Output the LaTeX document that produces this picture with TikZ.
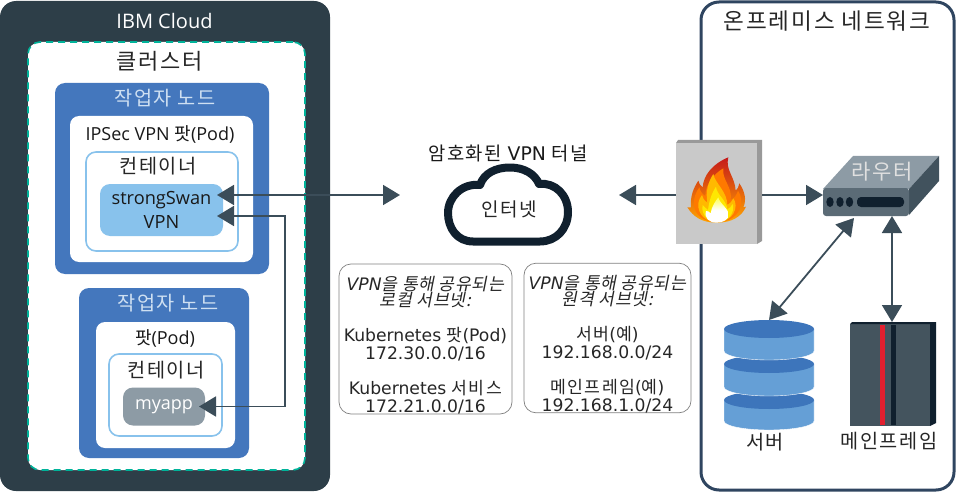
\documentclass[tikz,border=0pt]{standalone}
\usepackage{fontspec}
\setmainfont{Open Sans}
\newfontfamily\krfont[LetterSpace=8]{Noto Sans CJK KR}
\newfontfamily\krslant[FakeSlant=0.2,LetterSpace=4]{Noto Sans CJK KR}
\newfontfamily\dvfont{DejaVu Sans}
\usetikzlibrary{arrows.meta, positioning, calc}
\definecolor{cloudnavy}{HTML}{2D3E48}
\definecolor{clusterteal}{HTML}{00B39A}
\definecolor{workerblue}{HTML}{4477BD}
\definecolor{skyblue}{HTML}{88C2EC}
\definecolor{appgray}{HTML}{8D9BA5}
\definecolor{linkslate}{HTML}{3B4D59}
\definecolor{inknavy}{HTML}{10202E}
\definecolor{framenavy}{HTML}{2F4560}
\definecolor{disktop}{HTML}{3D75BB}
\definecolor{diskside}{HTML}{659FD6}
\definecolor{mainfrgray}{HTML}{44545E}
\definecolor{mainfrred}{HTML}{E3202F}
\definecolor{routerfront}{HTML}{5B6B76}
\definecolor{routerside}{HTML}{41525D}
\definecolor{workertext}{HTML}{CFE0F2}
\tikzset{
  panel/.style={rectangle, inner sep=0pt, outer sep=0pt, rounded corners=#1},
  panel/.default=10pt,
  link/.style={draw=linkslate, line width=1.8pt, {Triangle[length=17pt,width=20pt]}-{Triangle[length=17pt,width=20pt]}},
  onelink/.style={draw=linkslate, line width=1.8pt, -{Triangle[length=17pt,width=20pt]}},
  label/.style={inner sep=0pt, text=black!85, font=\krfont\fontsize{19.7}{22}\selectfont},
  notebox/.style={panel=12pt, draw=black!50, line width=0.7pt, align=center, font=\dvfont\fontsize{17.2}{17.5}\selectfont, text=black!85}
}
\newcommand{\kr}[1]{{\krfont #1}}
\newcommand{\krit}[1]{{\krslant #1}}

\begin{document}
\begin{tikzpicture}[x=1pt,y=-1pt]
    \useasboundingbox (0,0) rectangle (956,492);

    % IBM Cloud side
    \node[panel=16pt, fill=cloudnavy, minimum width=330pt, minimum height=490pt] (ibm) at (165,246) {};
    \node[inner sep=0pt, text=white, font=\fontsize{20}{22}\selectfont] (ibmtitle) at (164.5,21) {IBM Cloud};
    \node[panel=12pt, fill=white, draw=clusterteal, line width=1.6pt, dash pattern=on 7pt off 5pt, minimum width=277pt, minimum height=428pt] (cluster) at (166.5,256) {};
    \node[label, font=\krfont\fontsize{22}{24}\selectfont] (clustertitle) at (160,61) {클러스터};

    \node[panel, fill=workerblue, minimum width=214pt, minimum height=191pt] (worker1) at (162,178.5) {};
    \node[label, text=workertext] (worker1title) at (165,98) {작업자 노드};
    \node[panel=9pt, fill=white, minimum width=183pt, minimum height=146pt] (pod1) at (161.5,189) {};
    \node[inner sep=0pt, font=\fontsize{18}{20}\selectfont, text=black!90] (pod1title) at (160,134) {IPSec VPN \kr{팟}(Pod)};
    \node[panel, fill=white, draw=skyblue, line width=1.6pt, minimum width=152pt, minimum height=99pt] (box1) at (162,201.5) {};
    \node[label] (box1title) at (158,166) {컨테이너};
    \node[panel, fill=skyblue, minimum width=123pt, minimum height=52pt, align=center, font=\fontsize{18.2}{24}\selectfont, text=black!90] (swan) at (161.5,210) {strongSwan\\VPN};

    \node[panel, fill=workerblue, minimum width=170pt, minimum height=170pt] (worker2) at (164,373) {};
    \node[label, text=workertext] (worker2title) at (168,303) {작업자 노드};
    \node[panel=9pt, fill=white, minimum width=139pt, minimum height=126pt] (pod2) at (165.5,385) {};
    \node[inner sep=0pt, font=\fontsize{18}{20}\selectfont, text=black!90] (pod2title) at (165,338) {\kr{팟}(Pod)};
    \node[panel, fill=white, draw=skyblue, line width=1.6pt, minimum width=113pt, minimum height=82pt] (box2) at (165.5,395) {};
    \node[label] (box2title) at (166,370) {컨테이너};
    \node[panel, fill=appgray, minimum width=82pt, minimum height=38pt, text=white, font=\fontsize{18}{20}\selectfont] (app) at (164,406.5) {myapp};

    % middle
    \coordinate (tunnelL) at (400,195);
    \coordinate (tunnelR) at (619,195);
    \coordinate (bus) at (285,300);
    \node[inner sep=0pt, font=\krfont\fontsize{18.8}{20}\selectfont, text=black!90] (tunneltitle) at (508,153) {암호화된 {\dvfont VPN} 터널};
    \draw[draw=inknavy, line width=8pt, line join=round, fill=white]
        (473,241.5) .. controls (457,241.5) and (448,228) .. (448,213)
        .. controls (448,197) and (462,183) .. (480,185)
        .. controls (484,173) and (496,167.5) .. (510,167.5)
        .. controls (524,167.5) and (535,174) .. (539,184)
        .. controls (555,182) and (568,195) .. (568,212)
        .. controls (568,229) and (556,241.5) .. (540,241.5) -- cycle;
    \node[label, font=\krfont\fontsize{19}{20}\selectfont] (inet) at (509,209) {인터넷};

    \node[notebox, minimum width=173pt, minimum height=150pt] (localnote) at (425.5,339) {%
        \rule{0pt}{26pt}{\dvfont\itshape VPN}\krit{을 통해 공유되는}\\[-1.5pt]\krit{로컬 서브넷:}\\[18pt]
        Kubernetes \kr{팟}(Pod)\\172.30.0.0/16\\[18pt]
        Kubernetes \kr{서비스}\\172.21.0.0/16};
    \node[notebox, minimum width=167pt, minimum height=148pt] (remotenote) at (607.5,338) {%
        \rule{0pt}{26pt}{\dvfont\itshape VPN}\krit{을 통해 공유되는}\\[-1.5pt]\krit{원격 서브넷:}\\[18pt]
        \kr{서버}(\kr{예})\\192.168.0.0/24\\[18pt]
        \kr{메인프레임}(\kr{예})\\192.168.1.0/24};

    % on-premises side
    \node[panel=18pt, draw=framenavy, line width=3pt, minimum width=253pt, minimum height=488pt] (onprem) at (827.5,246) {};
    \node[label, font=\krfont\fontsize{22.6}{24}\selectfont] (onpremtitle) at (827,21) {온프레미스 네트워크};

    \node[fill=black!21, inner sep=0pt, minimum width=81pt, minimum height=101pt] (wall) at (716.5,193.5) {};
    \fill[black!40] (676,143) -- (678,140) -- (762,140) -- (762,241) -- (757,244) -- (757,143) -- cycle;
    \begin{scope}[shift={(680,150)},x=0.3333pt,y=-0.3333pt]
    \shade[top color=red!75!black!90, bottom color=orange!70!yellow]
        (110,218) .. controls (65,218) and (40,200) .. (22,172)
        .. controls (26,173) and (30,173) .. (33,172)
        .. controls (30,140) and (40,115) .. (55,92)
        .. controls (57,102) and (62,108) .. (68,112)
        .. controls (70,75) and (100,40) .. (145,22)
        .. controls (135,60) and (165,80) .. (167,122)
        .. controls (172,118) and (177,110) .. (178,100)
        .. controls (195,125) and (200,150) .. (190,172)
        .. controls (193,172) and (196,172) .. (198,170)
        .. controls (185,200) and (155,218) .. (110,218) -- cycle;
    \fill[orange!95!red]
        (110,216) .. controls (70,216) and (45,195) .. (42,165)
        .. controls (40,145) and (48,125) .. (58,112)
        .. controls (60,122) and (66,132) .. (76,138)
        .. controls (76,105) and (100,72) .. (130,55)
        .. controls (125,90) and (158,110) .. (152,150)
        .. controls (163,145) and (170,135) .. (174,122)
        .. controls (195,150) and (185,216) .. (110,216) -- cycle;
    \fill[orange!55!yellow]
        (110,216) .. controls (80,216) and (52,195) .. (55,160)
        .. controls (57,148) and (62,140) .. (66,135)
        .. controls (68,145) and (72,150) .. (82,158)
        .. controls (76,125) and (85,95) .. (100,72)
        .. controls (105,100) and (142,125) .. (142,165)
        .. controls (150,160) and (156,155) .. (160,145)
        .. controls (178,170) and (160,216) .. (110,216) -- cycle;
    \fill[yellow!90!orange]
        (110,216) .. controls (85,216) and (62,195) .. (68,165)
        .. controls (72,170) and (78,175) .. (84,180)
        .. controls (88,150) and (95,130) .. (108,110)
        .. controls (110,135) and (140,150) .. (142,178)
        .. controls (148,175) and (154,170) .. (158,162)
        .. controls (165,190) and (145,216) .. (110,216) -- cycle;
    \shade[top color=yellow!70!white, bottom color=white, middle color=white]
        (110,218) .. controls (88,218) and (72,205) .. (78,183)
        .. controls (82,182) and (88,185) .. (92,190)
        .. controls (95,170) and (105,155) .. (115,142)
        .. controls (118,160) and (146,175) .. (146,195)
        .. controls (146,208) and (130,218) .. (110,218) -- cycle;
    \end{scope}

    \fill[fill=appgray] (823,189) -- (853,156) -- (939,156) -- (909,189) -- cycle;
    \fill[fill=routerside] (909,189) -- (939,156) -- (939,181) -- (909,215) -- cycle;
    \node[panel=3pt, fill=routerfront, minimum width=86pt, minimum height=28pt] (router) at (866,202) {};
    \fill[inknavy] (830,202) ellipse (3.7 and 5) (840,202) ellipse (3.7 and 5) (849.5,202) ellipse (3.7 and 5);
    \node[panel=4pt, fill=inknavy, minimum width=47pt, minimum height=10pt] (routerbar) at (880.5,202) {};
    \node[label, text=white!88!black, font=\krfont\fontsize{21}{22}\selectfont] (routertitle) at (882,172) {라우터};

    \node[inner sep=0pt, minimum width=90pt, minimum height=110pt] (server) at (769,320) [anchor=north] {};
    \foreach \top/\bot in {400/421, 364/387, 329/351}{
        \fill[fill=diskside, draw=white, line width=0.4pt] (724,\top) -- (724,\bot) arc[start angle=180, end angle=360, x radius=45, y radius=-9] -- (814,\top) -- cycle;
        \fill[fill=disktop] (769,\top) ellipse (45 and 9);
    }
    \node[label] (servertitle) at (765,442) {서버};

    \node[fill=mainfrgray, inner sep=0pt, minimum width=80pt, minimum height=102pt] (mainfr) at (890,375) {};
    \fill[inknavy] (850,324) -- (852,322) -- (936,322) -- (936,423) -- (930,426) -- (930,324) -- cycle;
    \fill[mainfrred] (880,325) rectangle (885,425);
    \fill[inknavy] (891,325) rectangle (896,425);
    \coordinate (mainfrtop) at (892,322);
    \node[label] (mainfrtitle) at (889,441) {메인프레임};

    % connectors
    \draw[link] ([shift={(-6,-15)}]swan.east) -- (tunnelL);
    \draw[link] ([shift={(-6,6)}]swan.east) -| (bus) |- ([shift={(-6,0)}]app.east);
    \draw[onelink] (wall.west |- tunnelR) -- (tunnelR);
    \draw[onelink] ([xshift=5pt]wall.east |- tunnelR) -- (router.west |- tunnelR);
    \draw[link] ([shift={(-12,2)}]router.south) -- (server.north);
    \draw[link] (router.south -| mainfrtop) -- (mainfrtop);
\end{tikzpicture}
\end{document}
